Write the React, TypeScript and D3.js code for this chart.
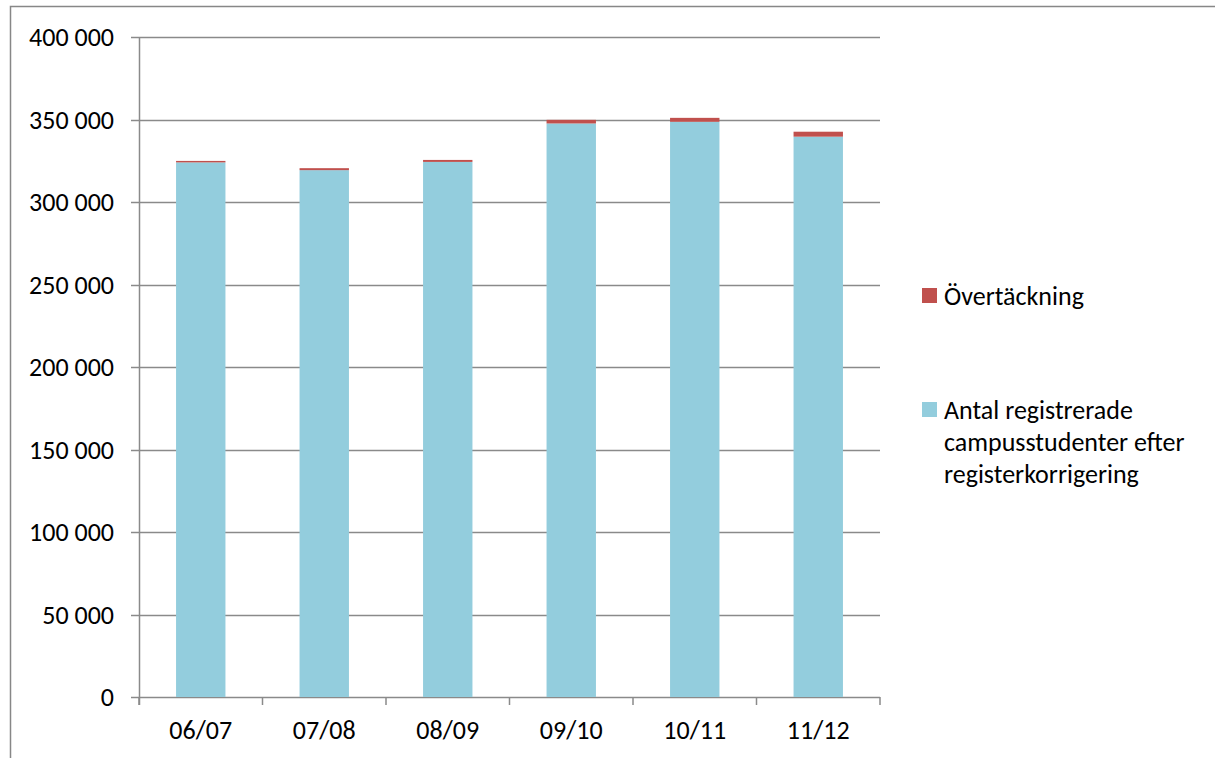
import React from "react";
import * as d3 from "d3";

const categories = ["06/07", "07/08", "08/09", "09/10", "10/11", "11/12"];
const registered = [324000, 319300, 324300, 347600, 348600, 339600];
const overlap = [900, 1200, 1200, 2200, 2400, 3000];
const yTicks = [0, 50000, 100000, 150000, 200000, 250000, 300000, 350000, 400000];
const seriesNames = ["Övertäckning", "Antal registrerade campusstudenter efter registerkorrigering"];
const legendLines = [["Övertäckning"], ["Antal registrerade", "campusstudenter efter", "registerkorrigering"]];
const colors = ["#C0504D", "#93CDDD"];

const W = 1215;
const H = 758;
const FONT = "Carlito, 'Open Sans', 'Liberation Sans', sans-serif";
const FS = 26;

export default function App() {
  const x = d3.scaleBand<string>().domain(categories).range([139, 880]).paddingInner(0.6).paddingOuter(0.3);
  const y = d3.scaleLinear().domain([0, 400000]).range([697, 37]);
  const stacked = categories.map((c, i) => ({ c, base: registered[i], top: registered[i] + overlap[i] }));
  const fmt = (v: number) => d3.format(",")(v).replace(/,/g, " ");
  const step = x.step();
  const boundaries = d3.range(categories.length + 1).map((i) => 139 + i * step);

  return (
    <div style={{ position: "absolute", left: 0, top: 0 }}>
      <svg width={W} height={H} style={{ display: "block", background: "#fff" }}>
        <rect x={10.5} y={6.5} width={1400} height={1000} fill="none" stroke="#878787" strokeWidth={1.5} />
        {yTicks.map((t) => (
          <g key={t}>
            <line x1={131} x2={880} y1={Math.round(y(t)) + 0.5} y2={Math.round(y(t)) + 0.5} stroke="#8a8a8a" strokeWidth={1.5} />
            <text x={114} y={y(t)} dy="0.35em" textAnchor="end" fontFamily={FONT} fontSize={FS} fill="#000">
              {fmt(t)}
            </text>
          </g>
        ))}
        <line x1={139.5} x2={139.5} y1={37} y2={705} stroke="#8a8a8a" strokeWidth={1.5} />
        {boundaries.map((b, i) => (
          <line key={i} x1={b} x2={b} y1={697} y2={705} stroke="#8a8a8a" strokeWidth={1.5} />
        ))}
        {stacked.map((d) => (
          <g key={d.c}>
            <rect x={x(d.c)} y={y(d.base)} width={x.bandwidth()} height={y(0) - y(d.base)} fill={colors[1]} />
            <rect x={x(d.c)} y={y(d.top)} width={x.bandwidth()} height={y(d.base) - y(d.top)} fill={colors[0]} />
            <text x={(x(d.c) as number) + x.bandwidth() / 2} y={739} textAnchor="middle" fontFamily={FONT} fontSize={FS} fill="#000">
              {d.c}
            </text>
          </g>
        ))}
        {seriesNames.map((s, i) => {
          const top = i === 0 ? 288 : 402;
          return (
            <g key={s}>
              <rect x={922} y={top} width={15} height={15} fill={colors[i]} />
              {legendLines[i].map((ln, j) => (
                <text key={j} x={944} y={top + 8 + j * 31.7} dy="0.35em" fontFamily={FONT} fontSize={FS} fill="#000">
                  {ln}
                </text>
              ))}
            </g>
          );
        })}
      </svg>
    </div>
  );
}
